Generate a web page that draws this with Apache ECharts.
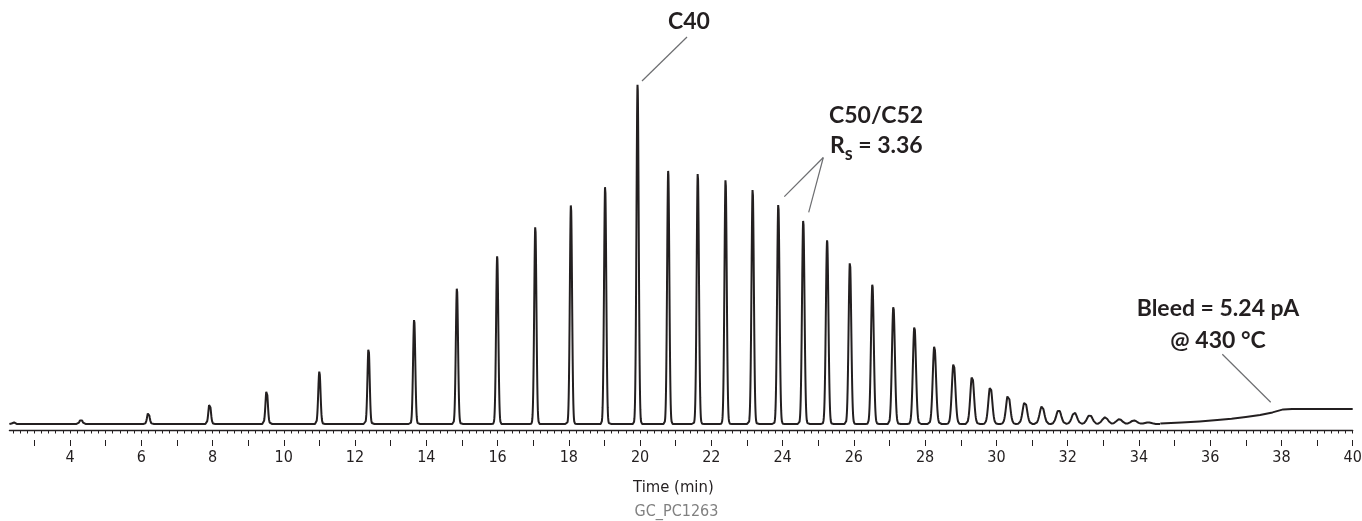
<!DOCTYPE html>
<html>
<head>
<meta charset="utf-8">
<script src="https://cdn.jsdelivr.net/npm/echarts@6/dist/echarts.min.js"></script>
<style>
html,body{margin:0;padding:0;background:#ffffff;}
#chart{width:1362px;height:521px;}
</style>
</head>
<body>
<div id="chart"></div>
<script>
// ---- Data ----
// Peak apex retention times (min)
const peakTimes = [2.41, 4.31, 6.20, 7.92, 9.52, 11.00, 12.38, 13.66, 14.86, 15.99,
  17.06, 18.06, 19.02, 19.93, 20.79, 21.62, 22.40, 23.16, 23.88, 24.58,
  25.25, 25.89, 26.52, 27.11, 27.70, 28.26, 28.80, 29.32, 29.83, 30.33,
  30.80, 31.28, 31.75, 32.19, 32.62, 33.05, 33.45, 33.86, 34.26];
// Peak heights above the baseline (pA)
const peakHeights = [0.5, 1.3, 2.9, 5.3, 8.6, 13.2, 19.2, 26.2, 34.1, 42.0,
  49.6, 55.1, 59.7, 85.0, 63.4, 63.0, 61.4, 58.9, 55.1, 51.1,
  46.0, 40.7, 35.0, 29.5, 24.5, 19.6, 15.3, 12.2, 9.5, 7.4,
  5.7, 4.5, 3.6, 2.9, 2.3, 1.7, 1.2, 0.9, 0.4];
// Peak widths (standard deviation, min)
const peakWidths = [0.030, 0.035, 0.035, 0.034, 0.033, 0.032, 0.031, 0.031, 0.031, 0.031,
  0.031, 0.031, 0.031, 0.031, 0.031, 0.032, 0.032, 0.033, 0.034, 0.035,
  0.036, 0.037, 0.039, 0.041, 0.043, 0.046, 0.049, 0.051, 0.054, 0.057,
  0.061, 0.064, 0.067, 0.071, 0.074, 0.078, 0.081, 0.086, 0.090];
// Baseline level during the run (pA)
const baselineLevel = 1.5;
// Column bleed rise at the end of the run
const bleedTimes = [34.6, 35.2, 35.7, 36.2, 36.6, 37.0, 37.4, 37.75, 38.05, 38.3, 40.0];
const bleedValues = [1.6, 1.85, 2.15, 2.5, 2.83, 3.25, 3.75, 4.4, 5.15, 5.24, 5.24];
// Axis ticks and labels (min)
const axisMin = 2.3, axisMax = 40;
const tickLabels = [4, 6, 8, 10, 12, 14, 16, 18, 20, 22, 24, 26, 28, 30, 32, 34, 36, 38, 40];
const minuteTicks = [3, 4, 5, 6, 7, 8, 9, 10, 11, 12, 13, 14, 15, 16, 17, 18, 19, 20, 21,
  22, 23, 24, 25, 26, 27, 28, 29, 30, 31, 32, 33, 34, 35, 36, 37, 38, 39, 40];
const minorTicks = [];
for (let i = 12; i <= 200; i++) minorTicks.push(i / 5);

// ---- Build the trace from the peak table ----
const traceEnd = bleedTimes[0];
const step = 0.004;
const trace = [];
const n = Math.round((traceEnd - axisMin) / step);
for (let k = 0; k <= n; k++) {
  const t = axisMin + k * step;
  let v = baselineLevel;
  for (let p = 0; p < peakTimes.length; p++) {
    const d = (t - peakTimes[p]) / peakWidths[p];
    if (Math.abs(d) < 8) v += peakHeights[p] * Math.exp(-0.5 * d * d);
  }
  trace.push([+t.toFixed(4), v]);
}
const bleed = bleedTimes.map((t, i) => [t, bleedValues[i]]);

const ink = '#231f20';
const axisFont = '"Liberation Sans Narrow", "DejaVu Sans Condensed", "Arial Narrow", sans-serif';
const annFont = 'bold 23px Lato, "Open Sans", sans-serif';
const annLine = {stroke: '#6d6e71', lineWidth: 1.2};

const chart = echarts.init(document.getElementById('chart'), null, {renderer: 'canvas'});
chart.setOption({
  animation: false,
  backgroundColor: '#ffffff',
  grid: {left: 9.4, right: 9.3, top: 40, bottom: 81, outerBoundsMode: 'none', containLabel: false},
  xAxis: [
    {
      type: 'value', min: axisMin, max: axisMax, position: 'bottom',
      axisLine: {show: true, lineStyle: {color: ink, width: 1.3}},
      axisTick: {show: true, customValues: minorTicks, length: 3.5, lineStyle: {color: ink, width: 1}},
      axisLabel: {show: false},
      splitLine: {show: false}
    },
    {
      type: 'value', min: axisMin, max: axisMax, position: 'bottom',
      axisLine: {show: false},
      axisTick: {show: true, customValues: minuteTicks, length: 6, lineStyle: {color: ink, width: 1}},
      axisLabel: {show: true, customValues: tickLabels, margin: 10, color: ink,
        fontFamily: axisFont, fontSize: 16},
      splitLine: {show: false}
    }
  ],
  yAxis: {type: 'value', min: -2.5, max: 97.5, show: false, splitLine: {show: false}},
  series: [
    {
      type: 'line', xAxisIndex: 0, data: trace, showSymbol: false, symbol: 'none',
      lineStyle: {color: ink, width: 2}, silent: true
    },
    {
      type: 'line', xAxisIndex: 0, data: bleed, showSymbol: false, symbol: 'none',
      lineStyle: {color: ink, width: 2, join: 'round'}, silent: true
    }
  ],
  graphic: [
    {type: 'text', x: 689, y: 22, style: {text: 'C40', font: annFont, fill: ink, align: 'center', verticalAlign: 'middle'}},
    {type: 'line', shape: {x1: 687, y1: 37, x2: 642, y2: 81}, style: annLine},
    {type: 'text', x: 829, y: 115.5, style: {text: 'C50/C52', font: annFont, fill: ink, align: 'left', verticalAlign: 'middle'}},
    {type: 'text', x: 830, y: 145.5, style: {
      text: '{r|R}{s|s}{r| = 3.36}', align: 'left', verticalAlign: 'middle', fill: ink,
      rich: {
        r: {fontFamily: 'Lato, "Open Sans", sans-serif', fontWeight: 'bold', fontSize: 23, fill: ink},
        s: {fontFamily: 'Lato, "Open Sans", sans-serif', fontWeight: 'bold', fontSize: 18, fill: ink, padding: [18, 0, 0, 0]}
      }
    }},
    {type: 'line', shape: {x1: 823.3, y1: 157.5, x2: 784.3, y2: 196.7}, style: annLine},
    {type: 'line', shape: {x1: 823.3, y1: 157.5, x2: 808.7, y2: 212.3}, style: annLine},
    {type: 'text', x: 1218, y: 309, style: {text: 'Bleed = 5.24 pA', font: annFont, fill: ink, align: 'center', verticalAlign: 'middle'}},
    {type: 'text', x: 1218, y: 341, style: {text: '@ 430 °C', font: annFont, fill: ink, align: 'center', verticalAlign: 'middle'}},
    {type: 'line', shape: {x1: 1222.3, y1: 354.3, x2: 1270.7, y2: 402.3}, style: annLine},
    {type: 'text', x: 673.4, y: 488, style: {text: 'Time (min)', font: '16.5px ' + axisFont, fill: ink, align: 'center', verticalAlign: 'middle'}},
    {type: 'text', x: 676.5, y: 512, style: {text: 'GC_PC1263', font: '16px ' + axisFont, fill: '#808080', align: 'center', verticalAlign: 'middle'}}
  ]
});
</script>
</body>
</html>
